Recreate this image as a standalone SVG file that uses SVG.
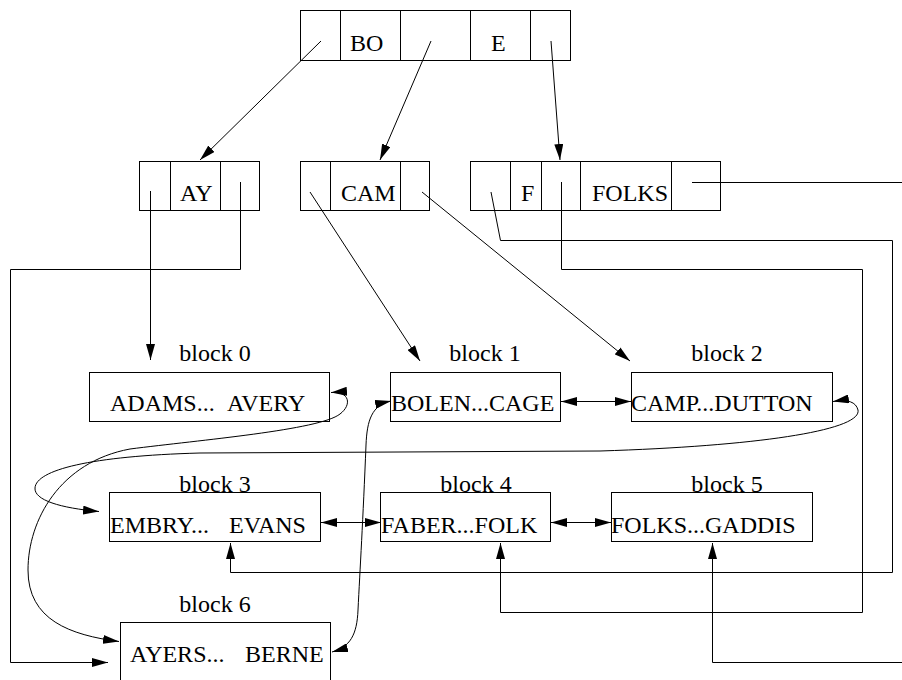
<svg xmlns="http://www.w3.org/2000/svg" width="902" height="680" viewBox="0 0 902 680">
<style>
.box{fill:#fff;stroke:#000;stroke-width:1}
.div{stroke:#000;stroke-width:1}
.t{font-family:"Liberation Serif","Times New Roman",serif;font-size:24px;fill:#000}
.lbl{font-family:"Liberation Serif","Times New Roman",serif;font-size:24px;fill:#000;text-anchor:middle}
.ln{fill:none;stroke:#000;stroke-width:1}
</style>
<defs>
<marker id="ah" markerWidth="16" markerHeight="9" refX="16" refY="4.5" orient="auto-start-reverse" markerUnits="userSpaceOnUse" viewBox="0 0 16 9"><path d="M0,0 L16,4.5 L0,9 z" fill="#000"/></marker>
</defs>

<g id="idx-root">
<rect class="box" x="300.5" y="10.5" width="270" height="50"/>
<line class="div" x1="340.5" y1="10.5" x2="340.5" y2="60.5"/>
<line class="div" x1="400.5" y1="10.5" x2="400.5" y2="60.5"/>
<line class="div" x1="470.5" y1="10.5" x2="470.5" y2="60.5"/>
<line class="div" x1="530.5" y1="10.5" x2="530.5" y2="60.5"/>
<text class="t" x="350" y="51">BO</text>
<text class="t" x="491" y="51">E</text>
</g>

<g id="idx-ay">
<rect class="box" x="139.5" y="161.5" width="120" height="49"/>
<line class="div" x1="170.5" y1="161.5" x2="170.5" y2="210.5"/>
<line class="div" x1="220.5" y1="161.5" x2="220.5" y2="210.5"/>
<text class="t" x="180" y="201">AY</text>
</g>

<g id="idx-cam">
<rect class="box" x="300.5" y="161.5" width="129" height="49"/>
<line class="div" x1="330.5" y1="161.5" x2="330.5" y2="210.5"/>
<line class="div" x1="400.5" y1="161.5" x2="400.5" y2="210.5"/>
<text class="t" x="341" y="201">CAM</text>
</g>

<g id="idx-f">
<rect class="box" x="470.5" y="161.5" width="250" height="49"/>
<line class="div" x1="510.5" y1="161.5" x2="510.5" y2="210.5"/>
<line class="div" x1="541.5" y1="161.5" x2="541.5" y2="210.5"/>
<line class="div" x1="580.5" y1="161.5" x2="580.5" y2="210.5"/>
<line class="div" x1="671.5" y1="161.5" x2="671.5" y2="210.5"/>
<text class="t" x="521" y="201">F</text>
<text class="t" x="592" y="201">FOLKS</text>
</g>

<g id="block0">
<text class="lbl" x="215" y="361">block 0</text>
<rect class="box" x="89.5" y="372.5" width="240" height="49"/>
<text class="t" x="110" y="411" xml:space="preserve">ADAMS...  <tspan x="227">AVERY</tspan></text>
</g>
<g id="block1">
<text class="lbl" x="485" y="361">block 1</text>
<rect class="box" x="390.5" y="372.5" width="170" height="49"/>
<text class="t" x="391" y="411">BOLEN...CAGE</text>
</g>
<g id="block2">
<text class="lbl" x="727" y="361">block 2</text>
<rect class="box" x="631.5" y="372.5" width="201" height="49"/>
<text class="t" x="631" y="411">CAMP...DUTTON</text>
</g>
<g id="block3">
<rect class="box" x="109.5" y="492.5" width="211" height="49"/>
<text class="lbl" x="215" y="492">block 3</text>
<text class="t" x="110" y="533" xml:space="preserve">EMBRY...   <tspan x="229">EVANS</tspan></text>
</g>
<g id="block4">
<rect class="box" x="380.5" y="492.5" width="170" height="49"/>
<text class="lbl" x="476" y="492">block 4</text>
<text class="t" x="381" y="533">FABER...FOLK</text>
</g>
<g id="block5">
<rect class="box" x="611.5" y="492.5" width="201" height="49"/>
<text class="lbl" x="727" y="492">block 5</text>
<text class="t" x="611" y="533">FOLKS...GADDIS</text>
</g>
<g id="block6">
<text class="lbl" x="215" y="612">block 6</text>
<rect class="box" x="120.5" y="622.5" width="210" height="70"/>
<text class="t" x="130" y="662" xml:space="preserve">AYERS...   <tspan x="245">BERNE</tspan></text>
</g>

<g id="connectors">
<path class="ln" d="M321,41 L200,160" marker-end="url(#ah)"/>
<path class="ln" d="M431,41 L380,160" marker-end="url(#ah)"/>
<path class="ln" d="M551,41 L560,160" marker-end="url(#ah)"/>
<path class="ln" d="M150.5,191 L150.5,360" marker-end="url(#ah)"/>
<path class="ln" d="M240.5,182 L240.5,269.5 L10.5,269.5 L10.5,662.5 L108,662.5" marker-end="url(#ah)"/>
<path class="ln" d="M310,192 L420,361" marker-end="url(#ah)"/>
<path class="ln" d="M422,192 L630,361" marker-end="url(#ah)"/>
<path class="ln" d="M491,192 L500.5,240.5 L892.5,240.5 L892.5,572.5 L230.5,572.5 L230.5,543" marker-end="url(#ah)"/>
<path class="ln" d="M561.5,182 L561.5,269.5 L862.5,269.5 L862.5,612.5 L500.5,612.5 L500.5,543" marker-end="url(#ah)"/>
<path class="ln" d="M692,182.5 L902,182.5"/>
<path class="ln" d="M902,662.5 L712.5,662.5 L712.5,543" marker-end="url(#ah)"/>
<path class="ln" d="M561,401.5 L631,401.5" marker-start="url(#ah)" marker-end="url(#ah)"/>
<path class="ln" d="M321,522.5 L381,522.5" marker-start="url(#ah)" marker-end="url(#ah)"/>
<path class="ln" d="M551,522.5 L611,522.5" marker-start="url(#ah)" marker-end="url(#ah)"/>
<path class="ln" d="M99,511.5 C60,508 34,500 35,488 C36,470 90,456 200,453 L600,451 C760,446 862,430 858,410 C856,402 848,399 833,401.5" marker-start="url(#ah)" marker-end="url(#ah)"/>
<path class="ln" d="M331,392.5 C350,391 352,405 340,414 C320,430 200,440 130,449 C60,462 28,520 28,570 C28,620 70,635 119,641.5" marker-start="url(#ah)" marker-end="url(#ah)"/>
<path class="ln" d="M391,401 C372,405 367,420 366,445 C363,520 360,570 358,610 C357,635 350,647 332,652" marker-start="url(#ah)" marker-end="url(#ah)"/>
</g>
</svg>
